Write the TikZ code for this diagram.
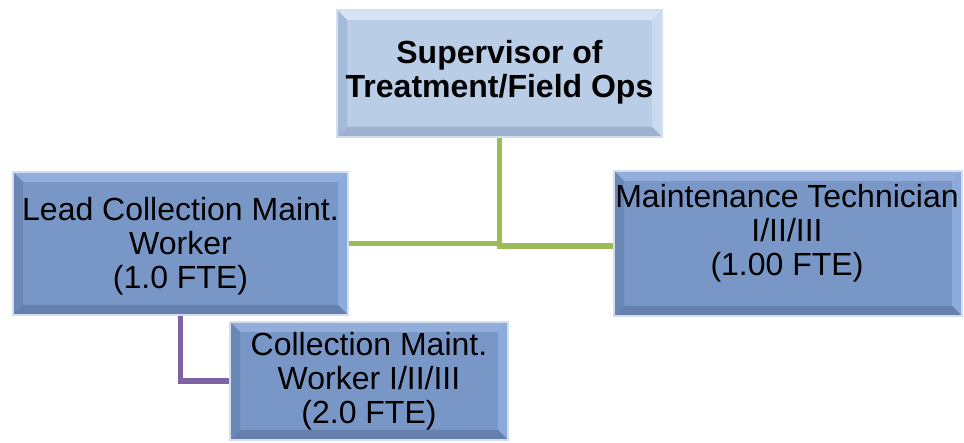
\documentclass[tikz,border=0pt]{standalone}
\usepackage{fontspec}
\setmainfont{Liberation Sans}
\usetikzlibrary{calc}

\definecolor{faceA}{HTML}{B9CDE7}
\definecolor{topA}{HTML}{D5E3F5}
\definecolor{rightA}{HTML}{C9DAF0}
\definecolor{leftA}{HTML}{A5BAD9}
\definecolor{botA}{HTML}{9EB1CF}
\definecolor{faceB}{HTML}{7896C6}
\definecolor{topB}{HTML}{93AEDB}
\definecolor{rightB}{HTML}{8CAADA}
\definecolor{leftB}{HTML}{6A87B6}
\definecolor{botB}{HTML}{6580AC}
\definecolor{rimcol}{HTML}{D3DEEE}
\definecolor{linkgreen}{HTML}{9BBB59}
\definecolor{linkpurple}{HTML}{8064A2}

% bevelled box: #1 face, #2 top, #3 right, #4 left, #5 bottom
\tikzset{
  bevel/.style n args={5}{
    draw=rimcol, line width=1.2pt, fill=#1,
    path picture={
      \def\bw{10pt}
      \coordinate (nw) at (path picture bounding box.north west);
      \coordinate (ne) at (path picture bounding box.north east);
      \coordinate (sw) at (path picture bounding box.south west);
      \coordinate (se) at (path picture bounding box.south east);
      \fill[#2] (nw) -- (ne) -- ([xshift=-\bw,yshift=-\bw]ne) -- ([xshift=\bw,yshift=-\bw]nw) -- cycle;
      \fill[#3] (ne) -- (se) -- ([xshift=-\bw,yshift=\bw]se) -- ([xshift=-\bw,yshift=-\bw]ne) -- cycle;
      \fill[#4] (nw) -- (sw) -- ([xshift=\bw,yshift=\bw]sw) -- ([xshift=\bw,yshift=-\bw]nw) -- cycle;
      \fill[#5] (sw) -- (se) -- ([xshift=-\bw,yshift=\bw]se) -- ([xshift=\bw,yshift=\bw]sw) -- cycle;
    }},
  lightbox/.style={rectangle, inner sep=0pt, bevel={faceA}{topA}{rightA}{leftA}{botA}},
  darkbox/.style={rectangle, inner sep=0pt, bevel={faceB}{topB}{rightB}{leftB}{botB}},
  boxtext/.style={align=center, inner sep=0pt, text=black,
    font=\fontsize{32pt}{34pt}\selectfont},
  greenlink/.style={draw=linkgreen, line width=5.5pt},
  purplelink/.style={draw=linkpurple, line width=5.5pt}
}

\begin{document}
\begin{tikzpicture}[x=1pt, y=-1pt]
  \useasboundingbox (0,0) rectangle (964,443);

  % boxes
  \node[lightbox, minimum width=325pt, minimum height=127pt] (sup) at (499.5,73.5) {};
  \node[darkbox, minimum width=335pt, minimum height=143pt] (lead) at (180.5,243.5) {};
  \node[darkbox, minimum width=348pt, minimum height=145pt] (tech) at (788,243.5) {};
  \node[darkbox, minimum width=278pt, minimum height=118pt] (crew) at (369,381) {};

  % reporting lines
  \draw[greenlink] (sup.south) |- (lead.east);
  \draw[greenlink] (sup.south) |- ([yshift=-2.5pt]tech.west);
  \draw[purplelink] (lead.south) |- (crew.west);

  % labels
  \node[boxtext, font=\fontsize{32pt}{34pt}\selectfont\bfseries] (sup-text) at (499.5,72)
    {Supervisor of\\Treatment/Field Ops};
  \node[boxtext] (lead-text) at (180.5,246) {Lead Collection Maint.\\Worker\\(1.0 FTE)};
  \node[boxtext] (tech-text) at (787,233) {Maintenance Technician\\I/II/III\\(1.00 FTE)};
  \node[boxtext] (crew-text) at (369,381) {Collection Maint.\\Worker I/II/III\\(2.0 FTE)};
\end{tikzpicture}
\end{document}
